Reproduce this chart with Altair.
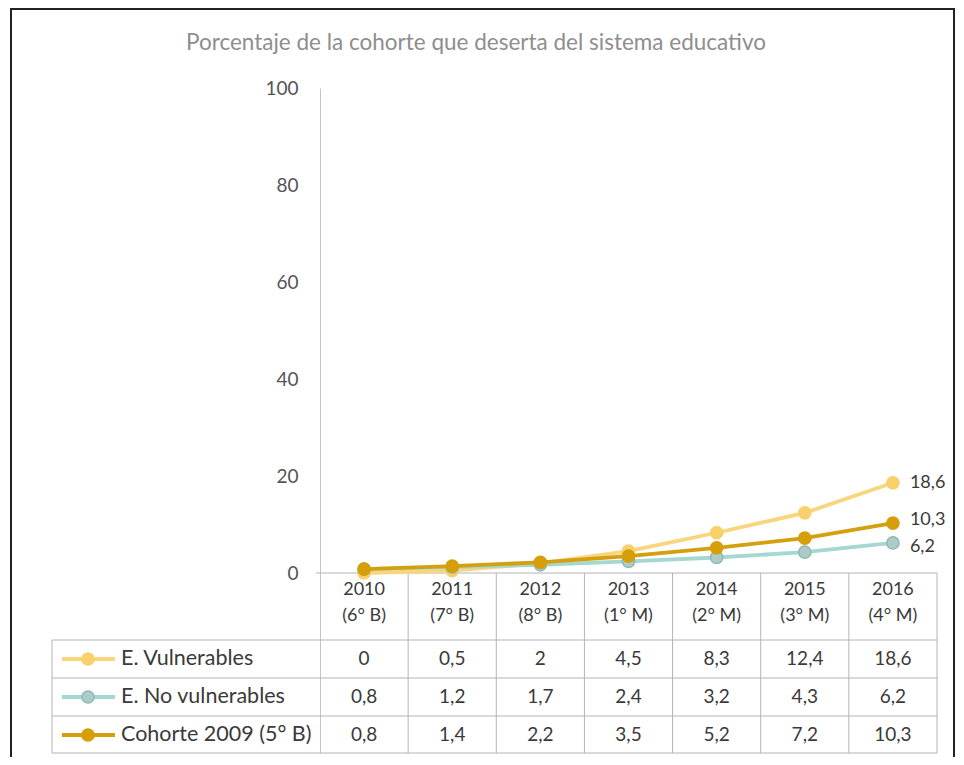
import altair as alt
import pandas as pd

# ---------------- data ----------------
title_text = "Porcentaje de la cohorte que deserta del sistema educativo"
years = ["2010", "2011", "2012", "2013", "2014", "2015", "2016"]
grades = ["(6° B)", "(7° B)", "(8° B)", "(1° M)", "(2° M)", "(3° M)", "(4° M)"]
series_names = ["E. Vulnerables", "E. No vulnerables", "Cohorte 2009 (5° B)"]
vulnerables = [0, 0.5, 2, 4.5, 8.3, 12.4, 18.6]
no_vulnerables = [0.8, 1.2, 1.7, 2.4, 3.2, 4.3, 6.2]
cohorte = [0.8, 1.4, 2.2, 3.5, 5.2, 7.2, 10.3]
y_ticks = [0, 20, 40, 60, 80, 100]

series_values = [vulnerables, no_vulnerables, cohorte]
line_colors = ["#F9D57C", "#A4D8D0", "#D4A010"]
marker_fills = ["#F8D06C", "#AFCBC7", "#D69F0A"]
marker_strokes = ["#F8D06C", "#8DBAB4", "#D69F0A"]
end_label_dy = [0, 4, -3]

# ---------------- layout (page pixels) ----------------
LEFT, AXIS_X, RIGHT = 52, 320, 937
TOP, ZERO_Y, BOTTOM = 88, 573, 753
W, H = RIGHT - LEFT, BOTTOM - TOP
COL_W = (RIGHT - AXIS_X) / len(years)
Y_PX = (ZERO_Y - TOP) / 100.0
FONT = "Lato"
TXT = "#3a3a3a"
GRID = "#b4b4b4"


def ux(px):
    return (px - AXIS_X) / COL_W


def uy(py):
    return (ZERO_Y - py) / Y_PX


XMIN, XMAX = ux(LEFT), float(len(years))
YMIN, YMAX = uy(BOTTOM), 100.0
HEADER_BOTTOM = uy(640)
ROW_LINES = [uy(678), uy(716), YMIN]
ROW_CENTERS = [uy(659), uy(697), uy(735)]
YEAR_Y, GRADE_Y = uy(590), uy(616)

xs = alt.Scale(domain=[XMIN, XMAX], nice=False, zero=False)
ys = alt.Scale(domain=[YMIN, YMAX], nice=False, zero=False)
Y_AXIS = alt.Axis(values=y_ticks, offset=-(AXIS_X - LEFT), ticks=False, grid=False,
                  domainColor="#c4c4c4", domainWidth=1, labelPadding=22,
                  labelFont=FONT, labelFontSize=19, labelColor="#555555", title=None)


def X(field):
    return alt.X(field, type="quantitative", scale=xs, axis=None)


def Y(field):
    return alt.Y(field, type="quantitative", scale=ys, axis=Y_AXIS)


def fmt(v):
    return f"{v:g}".replace(".", ",")


layers = []

# frame and title
layers.append(alt.Chart(pd.DataFrame({"a": [0]})).mark_rect(
    fillOpacity=0, stroke="#222222", strokeWidth=2).encode(
    x=alt.value(11 - LEFT), x2=alt.value(954 - LEFT),
    y=alt.value(9 - TOP), y2=alt.value(H + 40)))
layers.append(alt.Chart(pd.DataFrame({"t": [title_text]})).mark_text(
    font=FONT, fontSize=22.5, color="#8e8e8e", align="center", baseline="middle").encode(
    text="t:N", x=alt.value(476 - LEFT), y=alt.value(43 - TOP)))

# table grid
vlines = pd.DataFrame({
    "x": [float(i) for i in range(1, len(years) + 1)] + [XMIN],
    "y": [0.0] * len(years) + [HEADER_BOTTOM],
    "y2": [YMIN] * (len(years) + 1),
})
layers.append(alt.Chart(vlines).mark_rule(color=GRID, strokeWidth=1).encode(
    x=X("x"), y=Y("y"), y2="y2"))
hlines = pd.DataFrame({
    "y": [0.0, HEADER_BOTTOM] + ROW_LINES,
    "x": [ux(316), XMIN] + [XMIN] * len(ROW_LINES),
    "x2": [XMAX] * (2 + len(ROW_LINES)),
})
layers.append(alt.Chart(hlines).mark_rule(color=GRID, strokeWidth=1).encode(
    y=Y("y"), x=X("x"), x2="x2"))

# header labels
hdr = pd.DataFrame({"x": [i + 0.5 for i in range(len(years))], "year": years, "grade": grades})
layers.append(alt.Chart(hdr).mark_text(font=FONT, fontSize=18, color=TXT, baseline="middle").encode(
    x=X("x"), y=alt.datum(YEAR_Y, type="quantitative", scale=ys, axis=Y_AXIS), text="year:N"))
layers.append(alt.Chart(hdr).mark_text(font=FONT, fontSize=18, color=TXT, baseline="middle").encode(
    x=X("x"), y=alt.datum(GRADE_Y, type="quantitative", scale=ys, axis=Y_AXIS), text="grade:N"))

# series: lines, points, table rows, legend keys
for s, (name, vals) in enumerate(zip(series_names, series_values)):
    df = pd.DataFrame({"x": [i + 0.5 for i in range(len(years))], "v": vals,
                       "label": [fmt(v) for v in vals]})
    layers.append(alt.Chart(df).mark_line(color=line_colors[s], strokeWidth=3.8).encode(
        x=X("x"), y=Y("v")))
    layers.append(alt.Chart(df).mark_point(filled=True, size=150, fill=marker_fills[s],
                                           stroke=marker_strokes[s], strokeWidth=1.5,
                                           opacity=1).encode(x=X("x"), y=Y("v")))
    # row values
    layers.append(alt.Chart(df).mark_text(font=FONT, fontSize=19, color=TXT, baseline="middle").encode(
        x=X("x"), y=alt.datum(ROW_CENTERS[s], type="quantitative", scale=ys, axis=Y_AXIS),
        text="label:N"))
    # end label
    end = df.tail(1)
    layers.append(alt.Chart(end).mark_text(font=FONT, fontSize=18, color=TXT, align="left",
                                           baseline="middle", dx=17, dy=end_label_dy[s]).encode(
        x=X("x"), y=Y("v"), text="label:N"))
    # legend key
    key = pd.DataFrame({"x": [ux(62)], "x2": [ux(115)], "xm": [ux(88)], "xt": [ux(121)],
                        "y": [ROW_CENTERS[s]], "name": [name]})
    layers.append(alt.Chart(key).mark_rule(color=line_colors[s], strokeWidth=3.8).encode(
        x=X("x"), x2="x2", y=Y("y")))
    layers.append(alt.Chart(key).mark_point(filled=True, size=150, fill=marker_fills[s],
                                            stroke=marker_strokes[s], strokeWidth=1.5,
                                            opacity=1).encode(x=X("xm"), y=Y("y")))
    layers.append(alt.Chart(key).mark_text(font=FONT, fontSize=21.5, color=TXT, align="left",
                                           baseline="middle").encode(
        x=X("xt"), y=Y("y"), text="name:N"))

chart = alt.layer(*layers).properties(
    width=W, height=H,
    autosize=alt.AutoSizeParams(type="none"),
    padding={"left": LEFT - 8, "top": TOP - 8, "right": 948 - (LEFT - 8) - W,
             "bottom": 749 - (TOP - 8) - H},
    background="white",
).configure_view(stroke=None)

chart.save("out.html", embed_options={"renderer": "svg", "actions": False})
